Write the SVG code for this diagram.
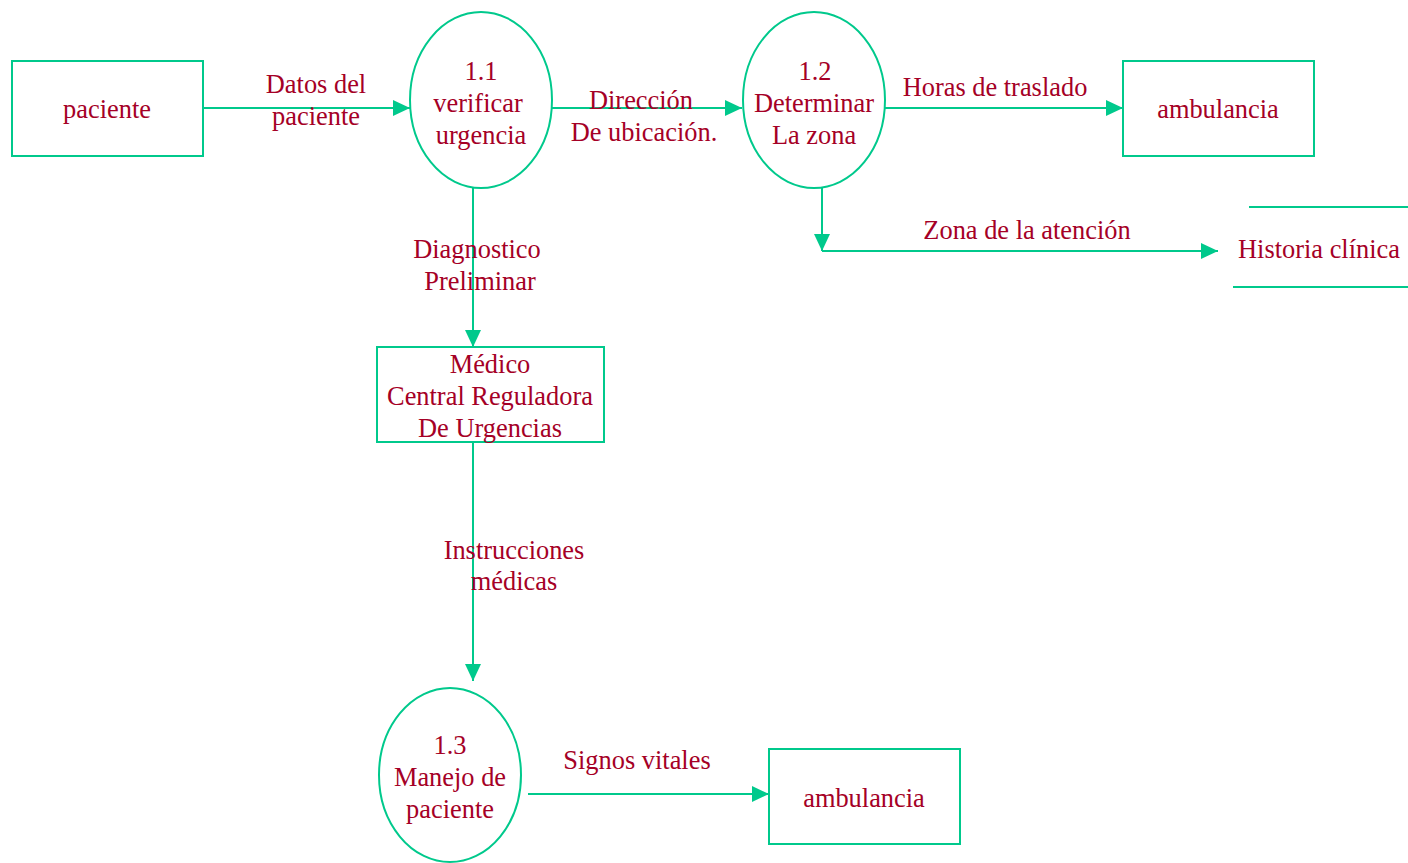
<svg xmlns="http://www.w3.org/2000/svg" width="1408" height="863" viewBox="0 0 1408 863">
<style>
.box{fill:none;stroke:#00C98C;stroke-width:2}
.ln{fill:none;stroke:#00C98C;stroke-width:2}
text{font-family:"Liberation Serif","Times New Roman",serif;font-size:26.4px;fill:#A50026;text-anchor:middle}
</style>
<defs>
<marker id="ah" markerUnits="userSpaceOnUse" markerWidth="18" markerHeight="16" refX="17" refY="8" orient="auto">
<path d="M0,0 L17,8 L0,16 Z" fill="#00C98C"/>
</marker>
</defs>
<rect width="1408" height="863" fill="#ffffff"/>
<g id="connectors">
<line class="ln" x1="203" y1="108" x2="410" y2="108" marker-end="url(#ah)"/>
<line class="ln" x1="552" y1="108" x2="742" y2="108" marker-end="url(#ah)"/>
<line class="ln" x1="885" y1="108" x2="1123" y2="108" marker-end="url(#ah)"/>
<line class="ln" x1="822" y1="188" x2="822" y2="251" marker-end="url(#ah)"/>
<line class="ln" x1="822" y1="251" x2="1218" y2="251" marker-end="url(#ah)"/>
<line class="ln" x1="473" y1="188" x2="473" y2="347" marker-end="url(#ah)"/>
<line class="ln" x1="473" y1="442" x2="473" y2="681" marker-end="url(#ah)"/>
<line class="ln" x1="528" y1="794" x2="769" y2="794" marker-end="url(#ah)"/>
<text x="316" y="93">Datos del</text>
<text x="316" y="125">paciente</text>
<text x="641" y="109">Dirección</text>
<text x="644" y="141">De ubicación.</text>
<text x="995" y="96">Horas de traslado</text>
<text x="1027" y="239">Zona de la atención</text>
<text x="477" y="258">Diagnostico</text>
<text x="480" y="290">Preliminar</text>
<text x="514" y="559">Instrucciones</text>
<text x="514" y="590">médicas</text>
<text x="637" y="769">Signos vitales</text>
</g>
<g id="paciente">
<rect class="box" x="12" y="61" width="191" height="95"/>
<text x="107" y="118">paciente</text>
</g>
<g id="p11">
<ellipse class="box" cx="481" cy="100" rx="71" ry="88"/>
<text x="481" y="80">1.1</text>
<text x="478" y="112">verificar</text>
<text x="481" y="144">urgencia</text>
</g>
<g id="p12">
<ellipse class="box" cx="814" cy="100" rx="71" ry="88"/>
<text x="815" y="80">1.2</text>
<text x="814" y="112">Determinar</text>
<text x="814" y="144">La zona</text>
</g>
<g id="ambulancia1">
<rect class="box" x="1123" y="61" width="191" height="95"/>
<text x="1218" y="118">ambulancia</text>
</g>
<g id="historia">
<line class="ln" x1="1249" y1="207" x2="1408" y2="207"/>
<line class="ln" x1="1233" y1="287" x2="1408" y2="287"/>
<text x="1319" y="258">Historia clínica</text>
</g>
<g id="medico">
<rect class="box" x="377" y="347" width="227" height="95"/>
<text x="490" y="373">Médico</text>
<text x="490" y="405">Central Reguladora</text>
<text x="490" y="437">De Urgencias</text>
</g>
<g id="p13">
<ellipse class="box" cx="450" cy="775" rx="71" ry="87"/>
<text x="450" y="754">1.3</text>
<text x="450" y="786">Manejo de</text>
<text x="450" y="818">paciente</text>
</g>
<g id="ambulancia2">
<rect class="box" x="769" y="749" width="191" height="95"/>
<text x="864" y="807">ambulancia</text>
</g>
</svg>
